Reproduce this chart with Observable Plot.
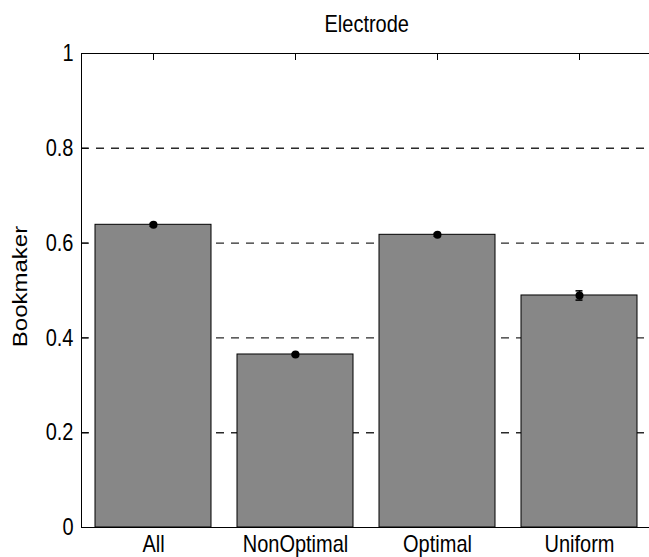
<!DOCTYPE html>
<html><head><meta charset="utf-8">
<script src="https://cdn.jsdelivr.net/npm/d3@7"></script>
<script src="https://cdn.jsdelivr.net/npm/@observablehq/plot@0.6"></script>
<style>body{margin:0;background:#fff} #chart svg{display:block}</style>
</head><body><div id="chart"></div>
<script>
const categories = ["All", "NonOptimal", "Optimal", "Uniform"];
const means = [0.6386, 0.365, 0.6175, 0.4895];
const errors = [0.003, 0.002, 0.003, 0.0098];
const yTicks = [0, 0.2, 0.4, 0.6, 0.8, 1];
const gridValues = [0.2, 0.4, 0.6, 0.8];
const title = "Electrode";
const yLabel = "Bookmaker";

const data = categories.map((c, i) => ({cat: c, mean: means[i], lo: means[i] - errors[i], hi: means[i] + errors[i]}));

const W = 649, H = 557, ML = 81, MR = -2.5, MT = 53, MB = 30, TICK = 7;
const frameW = W - ML - MR, frameH = H - MT - MB;

const font = "'Liberation Sans', Arial, Helvetica, sans-serif";
const plot = Plot.plot({
  width: W, height: H,
  marginLeft: ML, marginRight: MR, marginTop: MT, marginBottom: MB,
  style: {fontFamily: font, fontSize: "20px", background: "#fff", color: "#000"},
  x: {type: "band", domain: categories, paddingInner: 0.18, paddingOuter: 0.09, axis: null},
  y: {domain: [0, 1], axis: null},
  marks: [
    Plot.ruleY(gridValues, {stroke: "#2a2a2a", strokeWidth: 1.4, strokeDasharray: "8,7"}),
    Plot.barY(data, {x: "cat", y: "mean", fill: "#878787", stroke: "#000", strokeWidth: 1}),
    Plot.ruleX(data, {x: "cat", y1: "lo", y2: "hi", stroke: "#000", strokeWidth: 1.5}),
    Plot.tickY(data, {x: "cat", y: "lo", stroke: "#000", strokeWidth: 1.5, insetLeft: 54.5, insetRight: 54.5}),
    Plot.tickY(data, {x: "cat", y: "hi", stroke: "#000", strokeWidth: 1.5, insetLeft: 54.5, insetRight: 54.5}),
    Plot.dot(data, {x: "cat", y: "mean", r: 4, fill: "#000"}),
    Plot.frame({stroke: "#000", strokeWidth: 1}),
    // inward ticks on left axis
    Plot.tickY(yTicks, {y: d => d, stroke: "#000", strokeWidth: 1, insetRight: frameW - TICK}),
    // inward ticks on top axis
    Plot.ruleX(categories, {x: d => d, stroke: "#000", strokeWidth: 1, insetBottom: frameH - TICK}),
    Plot.axisY(yTicks, {anchor: "left", tickSize: 0, tickPadding: 8, tickFormat: d => String(d), label: null}),
    Plot.axisX(categories, {anchor: "bottom", tickSize: 0, tickPadding: 7, label: null}),
    Plot.text([title], {frameAnchor: "top", lineAnchor: "middle", textAnchor: "middle", dy: -29, fontSize: 20, fill: "#000"}),
    Plot.text([yLabel], {frameAnchor: "left", lineAnchor: "middle", textAnchor: "middle", rotate: -90, dx: -61, dy: -4, fontSize: 20, fill: "#000"})
  ]
});

// the reference's lettering is slightly stretched vertically
d3.select(plot).selectAll("text").each(function() {
  const t = d3.select(this);
  let tr = t.attr("transform") || "";
  const x = t.attr("x"), y = t.attr("y");
  const num = v => v != null && /^-?[\d.]+$/.test(v);
  if (!tr && (num(x) || num(y))) {
    tr = `translate(${num(x) ? +x : 0},${num(y) ? +y : 0})`;
    if (num(x)) t.attr("x", null);
    if (num(y)) t.attr("y", null);
  }
  const rotated = /rotate/.test(tr);
  t.attr("transform", (tr + (rotated ? " scale(1.2,1)" : " scale(1,1.2)")).trim());
});

document.getElementById("chart").appendChild(plot);
</script>
</body></html>
